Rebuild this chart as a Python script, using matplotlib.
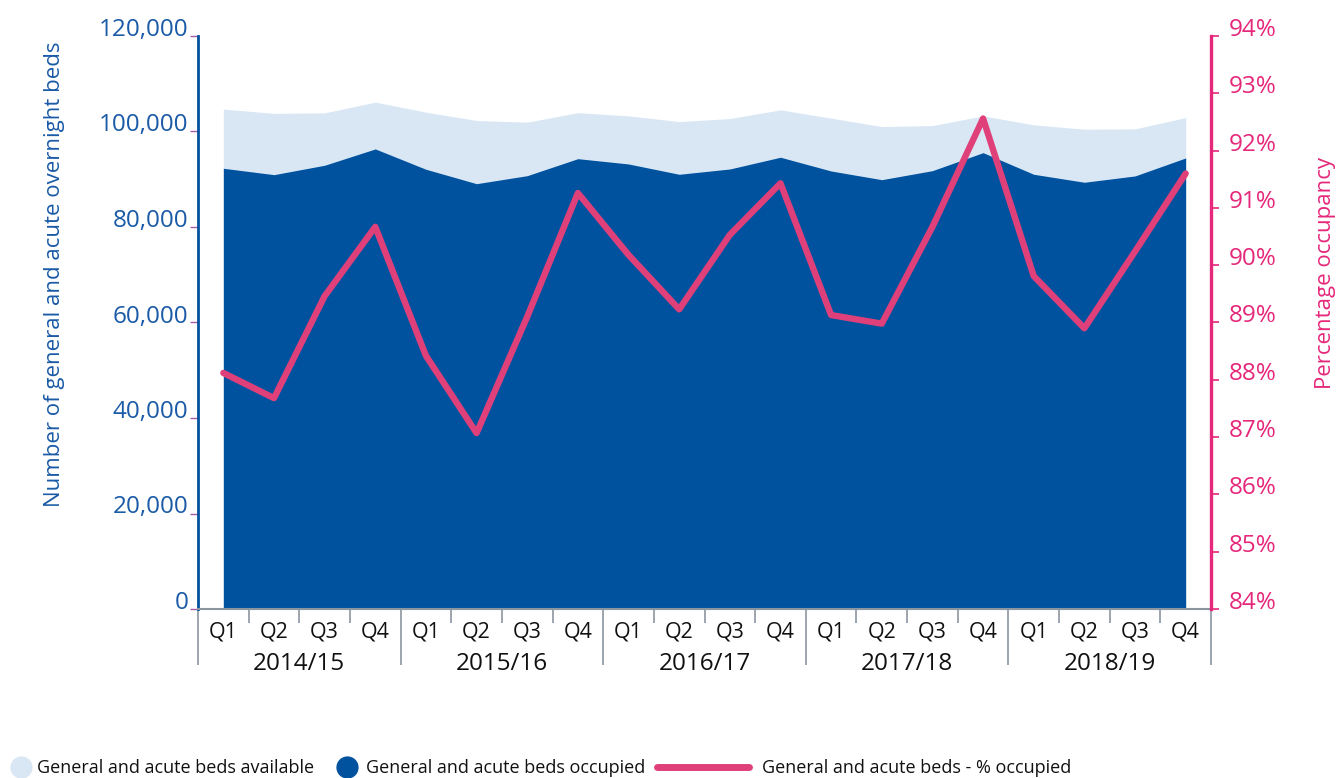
import matplotlib
matplotlib.use('Agg')
import matplotlib.pyplot as plt
import matplotlib.transforms as mtransforms
from matplotlib.lines import Line2D
from matplotlib.ticker import FuncFormatter, FixedLocator

plt.rcParams['font.family'] = ['Open Sans', 'DejaVu Sans']

# ---------------- data ----------------
years = ['2014/15', '2015/16', '2016/17', '2017/18', '2018/19']
quarters = ['Q1', 'Q2', 'Q3', 'Q4']

beds_available = [104700, 103800, 103900, 106150,
                  104050, 102300, 101950, 103950,
                  103270, 102080, 102710, 104530,
                  102790, 101030, 101240, 103270,
                  101390, 100480, 100550, 102920]

beds_occupied = [92300, 90960, 92930, 96350,
                 92090, 89070, 90750, 94310,
                 93200, 91040, 92150, 94610,
                 91730, 89910, 91800, 95570,
                 91040, 89370, 90690, 94460]

pct_occupied = [88.12, 87.68, 89.46, 90.67,
                88.42, 87.07, 89.10, 91.26,
                90.18, 89.23, 90.53, 91.43,
                89.13, 88.98, 90.67, 92.56,
                89.81, 88.90, 90.24, 91.60]

left_label = 'Number of general and acute overnight beds'
right_label = 'Percentage occupancy'
legend_labels = ['General and acute beds available',
                 'General and acute beds occupied',
                 'General and acute beds - % occupied']

# ---------------- styles ----------------
LIGHT = '#d9e7f5'
DARK = '#00529f'
PINK = '#e0407a'
PINK_AX = '#e5287a'
BLUE_TXT = '#1a5aa6'
GREY = '#8b959f'
PURPLE = '#a45ca8'

W, H = 1341, 778
fig = plt.figure(figsize=(W / 100, H / 100), dpi=100)
ax = fig.add_axes([198 / W, 1 - 609 / H, 1013 / W, 573 / H])

n = len(beds_available)
xs = [i + 0.5 for i in range(n)]

ax.fill_between(xs, 0, beds_available, color=LIGHT, lw=0, zorder=1)
ax.fill_between(xs, 0, beds_occupied, color=DARK, lw=0, zorder=2)
ax.set_xlim(0, n)
ax.set_ylim(0, 120000)

ax2 = ax.twinx()
ax2.plot(xs, pct_occupied, color=PINK, lw=4.6, solid_capstyle='round',
         solid_joinstyle='round', zorder=3)
ax2.set_ylim(84, 94)

# spines
for s in ['top', 'right']:
    ax.spines[s].set_visible(False)
ax.spines['left'].set_color(DARK)
ax.spines['left'].set_linewidth(2)
ax.spines['bottom'].set_color(GREY)
ax.spines['bottom'].set_linewidth(1.5)
for s in ['top', 'left', 'bottom']:
    ax2.spines[s].set_visible(False)
ax2.spines['right'].set_color(PINK_AX)
ax2.spines['right'].set_linewidth(2.4)

# left y ticks
ax.set_yticks(range(0, 120001, 20000))
ax.yaxis.set_major_formatter(FuncFormatter(lambda v, p: f'{int(v):,}'))
ax.tick_params(axis='y', direction='out', length=6, width=1, color=PURPLE,
               labelcolor=BLUE_TXT, labelsize=17.5, pad=1)
for lab in ax.get_yticklabels():
    lab.set_verticalalignment('baseline')

# right y ticks
ax2.set_yticks(range(84, 95))
ax2.yaxis.set_major_formatter(FuncFormatter(lambda v, p: f'{int(v)}%'))
ax2.tick_params(axis='y', direction='out', length=6, width=1.2, color=PINK_AX,
                labelcolor=PINK_AX, labelsize=17.5, pad=7)
for lab in ax2.get_yticklabels():
    lab.set_verticalalignment('baseline')

# x ticks: separators
ax.xaxis.set_major_locator(FixedLocator(list(range(0, n + 1, 4))))
ax.xaxis.set_minor_locator(FixedLocator([i for i in range(n + 1) if i % 4]))
ax.tick_params(axis='x', which='major', direction='out', length=40, width=1.2,
               color=GREY, labelbottom=False)
ax.tick_params(axis='x', which='minor', direction='out', length=10, width=1.2,
               color=GREY, labelbottom=False)

trans = mtransforms.blended_transform_factory(ax.transData, ax.transAxes)
for i, xv in enumerate(xs):
    ax.text(xv, -23 / 573, quarters[i % 4], transform=trans, ha='center',
            va='center', fontsize=15.5, color='#111111')
for j, yr in enumerate(years):
    ax.text(4 * j + 2, -55 / 573, yr, transform=trans, ha='center',
            va='center', fontsize=17.5, color='#111111')

# axis labels
fig.text(55 / W, 1 - 274 / H, left_label, rotation=90, ha='center',
         va='center', fontsize=16, color=BLUE_TXT)
fig.text(1326 / W, 1 - 273 / H, right_label, rotation=90, ha='center',
         va='center', fontsize=16, color=PINK_AX)

# legend
yleg = 1 - 768 / H
h1 = Line2D([], [], marker='o', ms=15, color=LIGHT, ls='')
h2 = Line2D([], [], marker='o', ms=15, color=DARK, ls='')
h3 = Line2D([], [], color=PINK, lw=5, solid_capstyle='round')
common = dict(loc='center left', frameon=False, fontsize=13, borderpad=0,
              borderaxespad=0, labelcolor='#111111')
fig.legend([h1], [legend_labels[0]], bbox_to_anchor=(10 / W, yleg),
           handlelength=1.2, handletextpad=0.29, **common)
fig.legend([h2], [legend_labels[1]], bbox_to_anchor=(336 / W, yleg),
           handlelength=1.2, handletextpad=0.46, **common)
fig.legend([h3], [legend_labels[2]], bbox_to_anchor=(656.5 / W, yleg),
           handlelength=5.1, handletextpad=0.75, **common)

fig.savefig('out.png', dpi=100)
